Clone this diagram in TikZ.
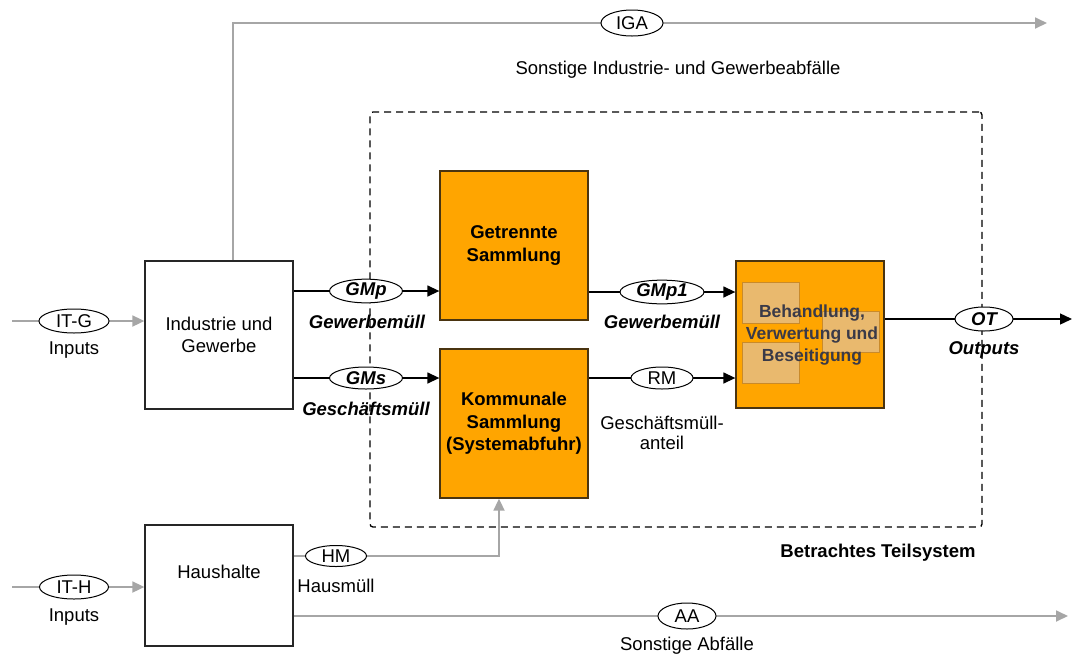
\documentclass[tikz,border=0pt]{standalone}
\usepackage{fontspec}
\setmainfont{Liberation Sans}
\usetikzlibrary{arrows.meta,shapes.geometric,backgrounds}

\definecolor{flowgrey}{HTML}{A6A6A6}
\definecolor{boxorange}{HTML}{FFA500}
\definecolor{boxedge}{HTML}{4A3410}
\definecolor{innertan}{HTML}{E9B96E}
\definecolor{inneredge}{HTML}{C98A2A}
\definecolor{slate}{HTML}{3A3A48}

\begin{document}
\begin{tikzpicture}[x=1pt,y=-1pt,
  font=\fontsize{18.5}{22}\selectfont,
  sector/.style={draw=black!85, line width=1.3pt, fill=white, inner sep=0pt,
    minimum width=148pt, minimum height=148pt, align=center},
  process/.style={draw=boxedge, line width=1.3pt, fill=boxorange, inner sep=0pt,
    minimum width=148pt, minimum height=149pt, align=center, font=\fontsize{18.5}{22.5}\selectfont\bfseries},
  subunit/.style={draw=inneredge, line width=0.8pt, fill=innertan, inner sep=0pt,
    minimum width=57pt, minimum height=41pt},
  tag/.style={ellipse, draw=black, line width=1pt, fill=white, inner sep=0pt,
    minimum height=24pt},
  btag/.style={tag, font=\fontsize{18.5}{22}\selectfont\bfseries\itshape},
  caption/.style={inner sep=0pt, align=center},
  bcaption/.style={caption, font=\fontsize{18.5}{22}\selectfont\bfseries\itshape},
  greyflow/.style={draw=flowgrey, line width=1.8pt},
  greyarrow/.style={greyflow, -{Triangle[length=12pt,width=11pt]}},
  blackflow/.style={draw=black, line width=1.4pt, -{Triangle[length=12pt,width=11pt]}},
]
\useasboundingbox (0,0) rectangle (1072,657);

% system boundary
\node[draw=black, line width=1.3pt, dash pattern=on 7pt off 5pt, rounded corners=3pt,
  minimum width=612pt, minimum height=415pt, inner sep=0pt] (sys) at (676,319.5) {};
\node[caption, font=\fontsize{18.5}{22}\selectfont\bfseries] (systxt) at (878,553) {Betrachtes Teilsystem};

% sources
\node[sector] (iug) at (219,335) {Industrie und\\Gewerbe};
\node[sector, minimum height=121pt] (hh) at (219,585.5) {};
\node[caption] (hhtxt) at (219,572) {Haushalte};

% collection and treatment
\node[process] (gs) at (514,245.5) {Getrennte\\Sammlung};
\node[process] (ks) at (514,423.5) {Kommunale\\Sammlung\\(Systemabfuhr)};
\node[process, minimum height=147pt] (bvb) at (810,334.5) {};
\node[subunit] (sua) at (770.5,302.5) {};
\node[subunit] (sub) at (770.5,363) {};
\node[subunit] (suc) at (850.5,332) {};
\node[caption, text=slate, font=\fontsize{17.5}{22}\selectfont\bfseries] (bvbtxt) at (812,335)
  {Behandlung,\\Verwertung und\\Beseitigung};

% flow tags
\node[tag, minimum width=70pt] (itg) at (74,321) {IT-G};
\node[caption] (itgtxt) at (74,350) {Inputs};
\node[tag, minimum width=69pt] (ith) at (74,587) {IT-H};
\node[caption] (ithtxt) at (74,617) {Inputs};
\node[tag, minimum width=62pt, minimum height=26pt] (iga) at (632,23) {IGA};
\node[caption] (igatxt) at (678,70) {Sonstige Industrie- und Gewerbeabf\"alle};
\node[btag, minimum width=73pt, minimum height=22pt] (gmp) at (366,291) {GMp};
\node[bcaption] (gmptxt) at (367,322) {Gewerbem\"ull};
\node[btag, minimum width=73pt, minimum height=22pt] (gms) at (366,378) {GMs};
\node[bcaption] (gmstxt) at (366,409) {Gesch\"aftsm\"ull};
\node[btag, minimum width=84pt, minimum height=22pt] (gmp1) at (662,292) {GMp1};
\node[bcaption] (gmp1txt) at (662,322) {Gewerbem\"ull};
\node[tag, minimum width=62pt, minimum height=22pt] (rm) at (662,378) {RM};
\node[caption, font=\fontsize{18.5}{20}\selectfont] (rmtxt) at (662,433) {Gesch\"aftsm\"ull-\\anteil};
\node[btag, minimum width=58pt] (ot) at (984,319) {OT};
\node[bcaption] (ottxt) at (984,350) {Outputs};
\node[tag, minimum width=61pt, minimum height=21pt] (hm) at (336,556) {HM};
\node[caption] (hmtxt) at (336,586) {Hausm\"ull};
\node[tag, minimum width=58pt, minimum height=26pt] (aa) at (687,616) {AA};
\node[caption] (aatxt) at (687,646) {Sonstige Abf\"alle};

% free ends
\coordinate (itg0) at (12,321);
\coordinate (ith0) at (12,587);
\coordinate (igaend) at (1047,23);
\coordinate (aaend) at (1068,616);
\coordinate (otend) at (1072,319);

% connectors
\begin{scope}[on background layer]
  \draw[greyarrow] (itg0) -- (iug.west |- itg0);
  \draw[greyarrow] (ith0) -- (hh.west |- ith0);
  \draw[greyarrow] ([xshift=14pt]iug.north) |- (igaend);
  \draw[greyarrow] (hh.east |- hm) -| ([xshift=-15pt]ks.south);
  \draw[greyarrow] (hh.east |- aa) -- (aaend);
  \draw[blackflow] (iug.east |- gmp) -- (gs.west |- gmp);
  \draw[blackflow] (iug.east |- gms) -- (ks.west |- gms);
  \draw[blackflow] (gs.east |- gmp1) -- (bvb.west |- gmp1);
  \draw[blackflow] (ks.east |- rm) -- (bvb.west |- rm);
  \draw[blackflow] (bvb.east |- ot) -- (otend);
\end{scope}
\end{tikzpicture}
\end{document}
